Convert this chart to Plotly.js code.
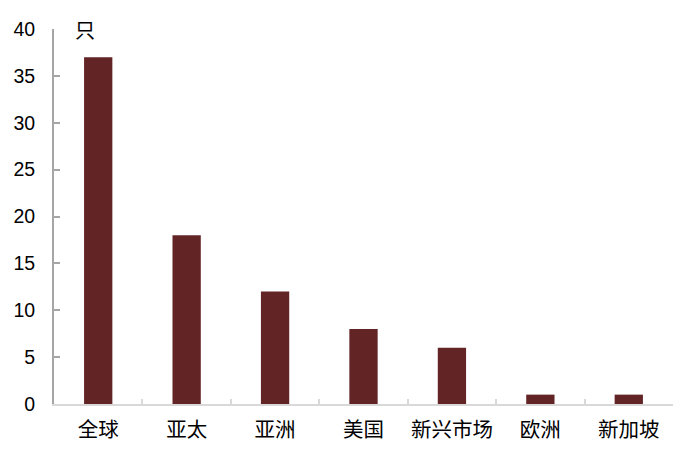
<!DOCTYPE html>
<html>
<head>
<meta charset="utf-8">
<script src="https://cdn.plot.ly/plotly-3.0.1.min.js"></script>
<style>
  html, body { margin: 0; padding: 0; background: #fff; }
  #chart { width: 683px; height: 453px; }
</style>
</head>
<body>
<div id="chart"></div>
<script>
// 各地区数量（只）
const regions = ['全球', '亚太', '亚洲', '美国', '新兴市场', '欧洲', '新加坡'];
const counts  = [37, 18, 12, 8, 6, 1, 1];
const yTicks  = [0, 5, 10, 15, 20, 25, 30, 35, 40];
const unitLabel = '只';

const BAR_COLOR = '#632426';

Plotly.newPlot('chart', [{
  type: 'bar',
  x: regions,
  y: counts,
  marker: { color: BAR_COLOR, line: { width: 0 } },
  hoverinfo: 'x+y',
}], {
  width: 683, height: 453,
  paper_bgcolor: '#fff', plot_bgcolor: '#fff',
  font: { family: 'Liberation Sans, Arial, sans-serif', color: '#000', size: 16 },
  margin: { t: 29, r: 10, b: 49, l: 54 },
  bargap: 0.68,
  showlegend: false,
  xaxis: {
    type: 'category',
    showline: true, linecolor: '#d9d9d9', linewidth: 2,
    ticks: 'inside', tickson: 'boundaries', ticklen: 5, tickcolor: '#d9d9d9', tickwidth: 2,
    showgrid: false, zeroline: false,
    tickangle: 0,
    tickfont: { family: 'Noto Sans CJK SC, sans-serif', size: 20.5, color: '#000' },
    ticklabelstandoff: 6,
  },
  yaxis: {
    range: [0, 40],
    tickvals: yTicks,
    showline: true, linecolor: '#a6a6a6', linewidth: 2,
    ticks: 'inside', ticklen: 6, tickcolor: '#a6a6a6', tickwidth: 2,
    showgrid: false, zeroline: false,
    tickfont: { family: 'Liberation Sans, Arial, sans-serif', size: 19.5, color: '#000' },
    ticklabelstandoff: 13,
  },
  annotations: [{
    text: unitLabel, xref: 'paper', yref: 'paper',
    x: 0.03, y: 1.0, xanchor: 'left', yanchor: 'middle',
    showarrow: false,
    font: { family: 'Noto Sans CJK SC, sans-serif', size: 20, color: '#000' },
  }],
}, { displayModeBar: false, staticPlot: true });
</script>
</body>
</html>
